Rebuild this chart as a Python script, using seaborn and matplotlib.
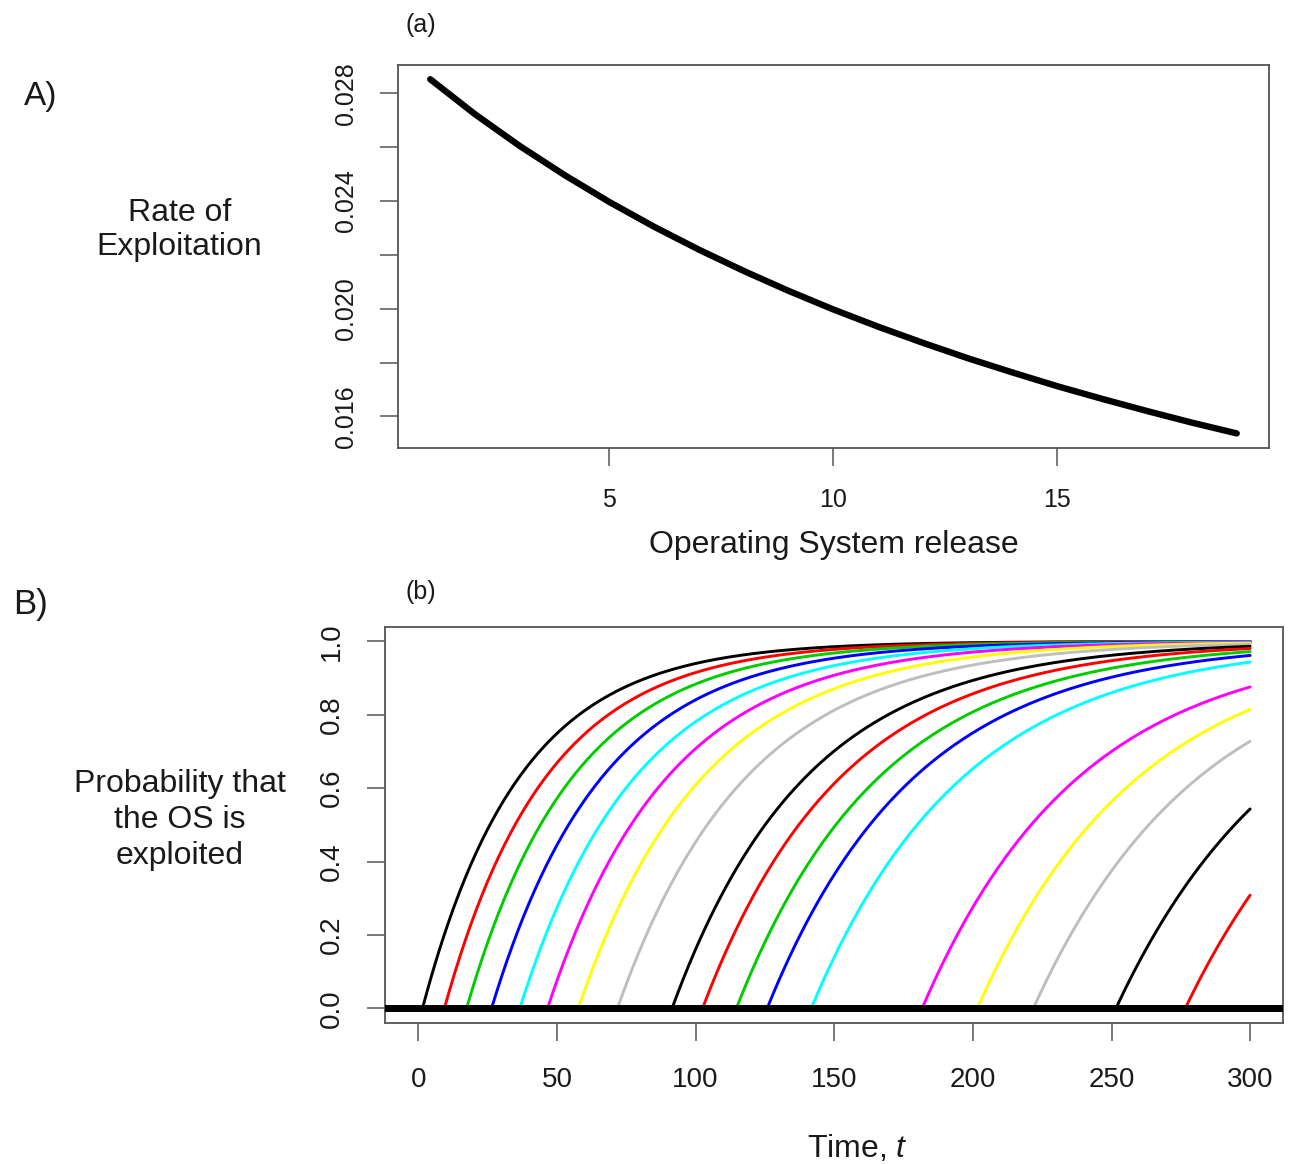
import numpy as np
import pandas as pd
import matplotlib
matplotlib.use("Agg")
import matplotlib.pyplot as plt
import seaborn as sns

# Exploitation rate for each operating system release
release = list(range(1, 20))
exploit_rate = [0.02852, 0.02722, 0.02604, 0.02496, 0.02396, 0.02304, 0.02219,
                0.02140, 0.02066, 0.01997, 0.01933, 0.01873, 0.01816, 0.01763,
                0.01712, 0.01665, 0.01620, 0.01577, 0.01537]

# Time at which each release becomes exposed (releases 1-18 fall inside the window)
exploit_start = [1.5, 9.4, 17.4, 26.4, 36.6, 46.6, 57.7, 71.8, 91.5, 102.5,
                 114.7, 125.8, 141.7, 181.7, 201.6, 221.8, 251.6, 276.6]

# R base palette, recycled across releases
r_palette = ["#000000", "#FF0000", "#00CD00", "#0000FF",
             "#00FFFF", "#FF00FF", "#FFFF00", "#BEBEBE"]

top_xticks = [5, 10, 15]
top_yticks = [0.016, 0.018, 0.020, 0.022, 0.024, 0.026, 0.028]
top_yticklabels = ["0.016", "", "0.020", "", "0.024", "", "0.028"]
bot_xticks = [0, 50, 100, 150, 200, 250, 300]
bot_yticks = [0.0, 0.2, 0.4, 0.6, 0.8, 1.0]
bot_yticklabels = ["0.0", "0.2", "0.4", "0.6", "0.8", "1.0"]

sns.set_theme(style="ticks")
plt.rcParams["font.family"] = ["Liberation Sans", "DejaVu Sans"]
plt.rcParams["mathtext.fontset"] = "custom"
plt.rcParams["mathtext.rm"] = "Liberation Sans"
plt.rcParams["mathtext.it"] = "Liberation Sans:italic"

fig = plt.figure(figsize=(12.9, 11.64), dpi=100)
fig.patch.set_facecolor("white")

frame_color = "#555555"
text_color = "#1a1a1a"


def r_frame(ax, tick_size, pad):
    for sp in ax.spines.values():
        sp.set_visible(True)
        sp.set_color(frame_color)
        sp.set_linewidth(1.3)
    ax.set_facecolor("white")
    ax.tick_params(axis="both", direction="out", length=13, width=1.1,
                   color=frame_color, labelsize=tick_size, labelcolor=text_color,
                   pad=pad)
    ax.tick_params(axis="y", labelrotation=90)
    for lab in ax.get_yticklabels():
        lab.set_va("center")
    ax.set_xlabel("")
    ax.set_ylabel("")


# ---- Panel A: rate of exploitation per release ----
ax1 = fig.add_axes([0.3085, 0.6154, 0.6752, 0.3288])
rate_df = pd.DataFrame({"release": release, "rate": exploit_rate})
sns.lineplot(data=rate_df, x="release", y="rate", ax=ax1, color="black",
             linewidth=4.6, estimator=None, solid_capstyle="round")
ax1.set_xlim(0.28, 19.72)
ax1.set_ylim(0.01484, 0.02905)
ax1.set_xticks(top_xticks)
ax1.set_xticklabels([str(v) for v in top_xticks])
ax1.set_yticks(top_yticks)
ax1.set_yticklabels(top_yticklabels)
r_frame(ax1, 18, 16)

# ---- Panel B: probability each release has been exploited ----
ax2 = fig.add_axes([0.2985, 0.1211, 0.6964, 0.3405])
t_grid = np.arange(0, 300.01, 0.5)
frames = []
for i, t0 in enumerate(exploit_start):
    t = t_grid[t_grid >= t0]
    t = np.concatenate([[t0], t])
    p = 1 - np.exp(-exploit_rate[i] * (t - t0))
    frames.append(pd.DataFrame({"time": t, "prob": p, "release": i + 1}))
prob_df = pd.concat(frames, ignore_index=True)
colors = {i + 1: r_palette[i % len(r_palette)] for i in range(len(exploit_start))}
sns.lineplot(data=prob_df, x="time", y="prob", hue="release", palette=colors,
             ax=ax2, linewidth=2.1, estimator=None, legend=False, sort=False)
ax2.axhline(0, color="black", linewidth=5.0, zorder=5)
ax2.set_xlim(-12, 312)
ax2.set_ylim(-0.04, 1.04)
ax2.set_xticks(bot_xticks)
ax2.set_xticklabels([str(v) for v in bot_xticks])
ax2.set_yticks(bot_yticks)
ax2.set_yticklabels(bot_yticklabels)
r_frame(ax2, 20, 16)
ax2.tick_params(axis="x", pad=18.5)

# ---- Labels ----
fig.text(0.0186, 0.9167, "A)", fontsize=24, color=text_color, ha="left", va="center")
fig.text(0.139, 0.8025, "Rate of\nExploitation", fontsize=23, color=text_color,
         ha="center", va="center", linespacing=1.17)
fig.text(0.3147, 0.9785, "(a)", fontsize=18, color=text_color, ha="left", va="center")
fig.text(0.646, 0.532, "Operating System release", fontsize=23, color=text_color,
         ha="center", va="center")

fig.text(0.0098, 0.4805, "B)", fontsize=25, color=text_color, ha="left", va="center")
fig.text(0.1395, 0.2955, "Probability that\nthe OS is\nexploited", fontsize=23,
         color=text_color, ha="center", va="center", linespacing=1.25)
fig.text(0.3147, 0.4914, "(b)", fontsize=18, color=text_color, ha="left", va="center")
fig.text(0.665, 0.0137, "Time, $\\mathit{t}$", fontsize=23, color=text_color,
         ha="center", va="center")

fig.savefig("out.png", dpi=100, facecolor="white")
